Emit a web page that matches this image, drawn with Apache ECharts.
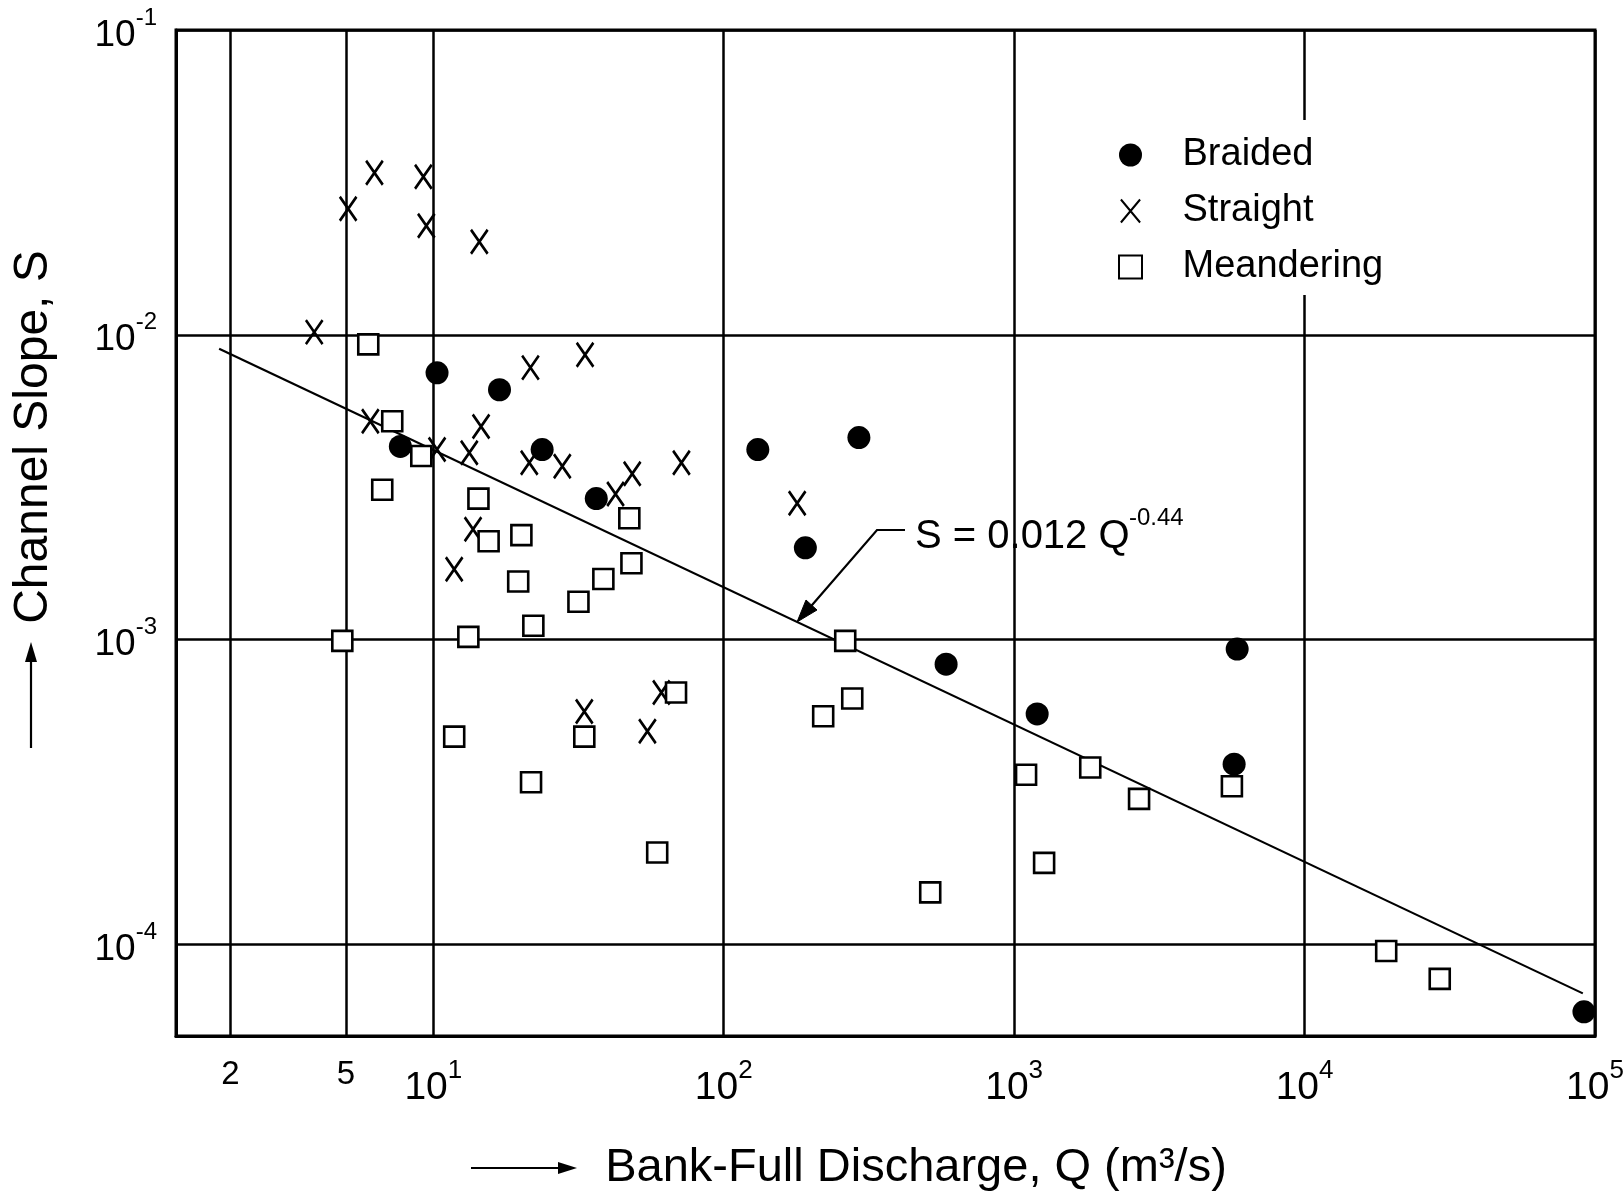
<!DOCTYPE html>
<html>
<head>
<meta charset="utf-8">
<script src="https://cdn.jsdelivr.net/npm/echarts@6/dist/echarts.min.js"></script>
<style>html,body{margin:0;padding:0;background:#fff}#c{width:1624px;height:1197px}</style>
</head>
<body>
<div id="c"></div>
<script>
// ---------------- data ----------------
const xTickValues = [2, 5, 10, 100, 1000, 10000, 100000];
const yTickValues = [0.0001, 0.001, 0.01, 0.1];
const legendNames = ['Braided', 'Straight', 'Meandering'];

const braided = [
  [10.3, 7.5e-3], [16.9, 6.6e-3], [7.7, 4.3e-3], [23.7, 4.2e-3], [36.4, 2.9e-3],
  [131, 4.2e-3], [292, 4.6e-3], [191, 2.0e-3], [583, 8.3e-4], [1200, 5.7e-4],
  [5860, 9.3e-4], [5720, 3.9e-4], [91600, 6.0e-5]
];
const straight = [
  [6.27, 0.0340], [9.24, 0.0330], [5.09, 0.0259], [9.46, 0.0228], [14.4, 0.0202],
  [3.89, 0.0102], [21.6, 7.8e-3], [33.3, 8.6e-3], [6.07, 5.2e-3], [14.6, 5.0e-3],
  [10.3, 4.2e-3], [13.3, 4.1e-3], [21.4, 3.8e-3], [27.8, 3.7e-3], [42.4, 3.0e-3],
  [48.4, 3.5e-3], [71.5, 3.8e-3], [179, 2.8e-3], [13.7, 2.3e-3], [11.8, 1.7e-3],
  [33.1, 5.8e-4], [61.0, 6.7e-4], [54.6, 5.0e-4]
];
const meandering = [
  [5.97, 9.3e-3], [7.22, 5.2e-3], [9.09, 4.0e-3], [6.67, 3.1e-3], [4.86, 9.9e-4],
  [14.3, 2.9e-3], [47.3, 2.5e-3], [15.5, 2.1e-3], [20.1, 2.2e-3], [19.6, 1.55e-3],
  [48.1, 1.78e-3], [38.5, 1.58e-3], [31.6, 1.33e-3], [22.1, 1.11e-3], [13.2, 1.02e-3],
  [262, 9.9e-4], [68.5, 6.7e-4], [277, 6.4e-4], [220, 5.6e-4], [11.8, 4.8e-4],
  [33.1, 4.8e-4], [21.7, 3.4e-4], [59.0, 2.0e-4], [514, 1.48e-4], [1099, 3.6e-4],
  [1268, 1.85e-4], [1828, 3.8e-4], [2692, 3.0e-4], [5620, 3.3e-4], [19100, 9.5e-5],
  [29200, 7.7e-5]
];
// regression line S = 0.012 Q^-0.44, end points as drawn in the picture
const fitLine = [[1.83, 0.0090], [90800, 6.9e-5]];
const fitLabel = 'S = 0.012 Q';
const fitExponent = '-0.44';

// ---------------- chart ----------------
const FONT = '"Liberation Sans", Arial, sans-serif';
const chart = echarts.init(document.getElementById('c'), null, {renderer: 'canvas'});

function tickLabel(v) {
  const e = Math.round(Math.log10(v));
  if (Math.abs(v / Math.pow(10, e) - 1) < 1e-6) return '{b|10}{s|' + e + '}';
  return '{p|' + v + '}';
}
const richX = {
  b: {fontSize: 39, lineHeight: 50, verticalAlign: 'bottom', fontFamily: FONT, color: '#000'},
  s: {fontSize: 26, lineHeight: 26, verticalAlign: 'top', fontFamily: FONT, color: '#000'},
  p: {fontSize: 33, lineHeight: 22, verticalAlign: 'top', fontFamily: FONT, color: '#000'}
};
const richY = {
  b: {fontSize: 37, lineHeight: 48, verticalAlign: 'bottom', fontFamily: FONT, color: '#000'},
  s: {fontSize: 24, lineHeight: 24, verticalAlign: 'top', fontFamily: FONT, color: '#000'}
};
const black = '#000';

const option = {
  backgroundColor: '#fff',
  animation: false,
  grid: {
    left: 176, right: 29, top: 30, bottom: 161,
    show: true, borderColor: black, borderWidth: 3, backgroundColor: '#fff',
    containLabel: false, outerBoundsMode: 'none'
  },
  legend: {
    data: legendNames,
    orient: 'vertical',
    left: 1113, top: 120,
    padding: [15, 12, 8, 5],
    itemWidth: 94, itemHeight: 23, itemGap: 16,
    backgroundColor: '#fff',
    textStyle: {fontSize: 38, lineHeight: 40, fontFamily: FONT, color: black},
    selectedMode: false
  },
  xAxis: {
    type: 'log', logBase: 10, min: 1.3, max: 100000,
    name: 'Bank-Full Discharge, Q (m³/s)',
    nameLocation: 'middle', nameGap: 106, nameMoveOverlap: false,
    nameTextStyle: {fontSize: 47, lineHeight: 52, fontFamily: FONT, color: black, padding: [0, 0, 0, 61]},
    axisLine: {show: true, lineStyle: {color: black, width: 3}},
    axisTick: {show: false, customValues: xTickValues},
    axisLabel: {customValues: xTickValues, formatter: tickLabel, rich: richX, margin: 22, color: black, hideOverlap: false},
    splitLine: {show: true, lineStyle: {color: black, width: 2.5}},
    minorTick: {show: false}, minorSplitLine: {show: false}
  },
  yAxis: {
    type: 'log', logBase: 10, min: 0.00005, max: 0.1,
    name: 'Channel Slope, S',
    nameLocation: 'middle', nameGap: 118, nameRotate: 90, nameMoveOverlap: false,
    nameTextStyle: {fontSize: 48, lineHeight: 48, fontFamily: FONT, color: black, padding: [0, 0, 0, 192]},
    axisLine: {show: true, lineStyle: {color: black, width: 3}},
    axisTick: {show: false, customValues: yTickValues},
    axisLabel: {customValues: yTickValues, formatter: tickLabel, rich: richY, margin: 19, color: black, hideOverlap: false},
    splitLine: {show: true, lineStyle: {color: black, width: 2.5}},
    minorTick: {show: false}, minorSplitLine: {show: false}
  },
  series: [
    {
      name: 'fit', type: 'line', data: fitLine, showSymbol: false, symbol: 'none',
      lineStyle: {color: black, width: 2.2}, silent: true, z: 2
    },
    {
      name: 'Braided', type: 'scatter', data: braided, symbol: 'circle', symbolSize: 23,
      symbolKeepAspect: true,
      itemStyle: {color: black, opacity: 1}, z: 3
    },
    {
      name: 'Straight', type: 'scatter', data: straight,
      symbol: 'path://M0,0L20,24M20,0L0,24', symbolSize: [20, 24], symbolKeepAspect: true,
      itemStyle: {color: 'rgba(0,0,0,0)', borderColor: black, borderWidth: 2.8, opacity: 1}, z: 3
    },
    {
      name: 'Meandering', type: 'scatter', data: meandering,
      symbol: 'path://M0,0L20,0L20,20L0,20Z', symbolSize: 20, symbolKeepAspect: true,
      itemStyle: {color: '#fff', borderColor: black, borderWidth: 2.6, opacity: 1}, z: 4
    }
  ],
  graphic: [
    // annotation of the regression line
    {type: 'text', x: 915, y: 537, z: 10,
     style: {text: fitLabel, fontSize: 40, fontFamily: FONT, fill: black, align: 'left', verticalAlign: 'middle'}},
    {type: 'text', x: 1129, y: 518, z: 10,
     style: {text: fitExponent, fontSize: 24, fontFamily: FONT, fill: black, align: 'left', verticalAlign: 'middle'}},
    {type: 'polyline', z: 10, shape: {points: [[905, 530], [877, 530], [806, 612]]},
     style: {stroke: black, lineWidth: 2.2, fill: null}},
    {type: 'polygon', z: 10, shape: {points: [[797, 622], [817, 610], [806, 600]]},
     style: {fill: black, stroke: black, lineWidth: 1}},
    // arrow before x-axis title
    {type: 'line', z: 10, shape: {x1: 471, y1: 1168, x2: 562, y2: 1168}, style: {stroke: black, lineWidth: 2.2}},
    {type: 'polygon', z: 10, shape: {points: [[577, 1168], [558, 1162], [558, 1174]]}, style: {fill: black}},
    // arrow below y-axis title
    {type: 'line', z: 10, shape: {x1: 31, y1: 748, x2: 31, y2: 658}, style: {stroke: black, lineWidth: 2.2}},
    {type: 'polygon', z: 10, shape: {points: [[31, 642], [25, 662], [37, 662]]}, style: {fill: black}}
  ]
};
chart.setOption(option);
</script>
</body>
</html>
